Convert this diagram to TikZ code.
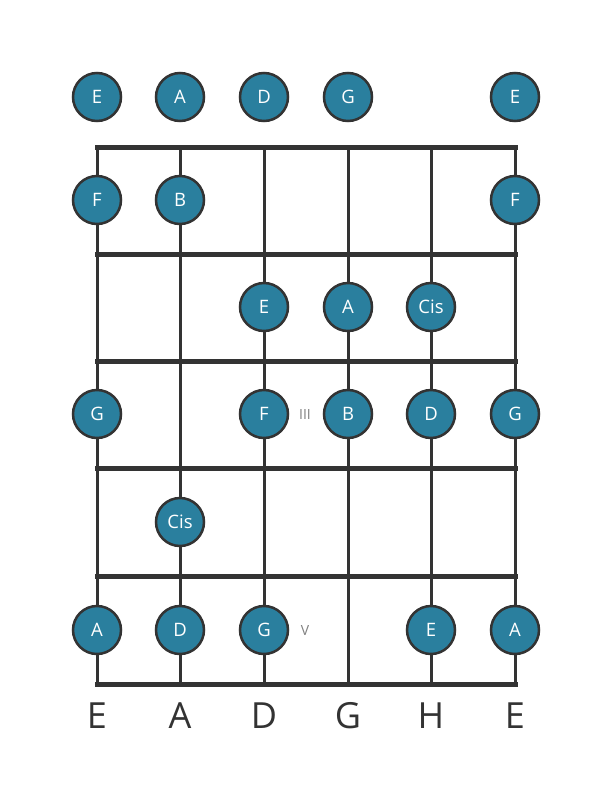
\documentclass[tikz,border=0pt]{standalone}
\usepackage{fontspec}
\setmainfont{Open Sans}
\definecolor{notefill}{HTML}{2A7F9E}
\definecolor{ink}{HTML}{333333}
\definecolor{marker}{HTML}{808080}
\begin{document}
\begin{tikzpicture}[x=1pt,y=-1pt,
  note/.style={circle,draw=ink,line width=2.5pt,fill=notefill,minimum size=48pt,inner sep=0pt,text=white,font=\fontsize{18.5}{18.5}\selectfont},
  fretline/.style={draw=ink,line width=5pt},
  stringline/.style={draw=ink,line width=3pt},
  markerlabel/.style={text=marker,font=\fontsize{14}{14}\selectfont},
  strlabel/.style={text=ink,font=\fontsize{36}{36}\selectfont}]
\useasboundingbox (0,0) rectangle (611,801);
% strings
\foreach \x in {97,180,264,348,431,515}{
  \draw[stringline] (\x,147) -- (\x,684);
}
% frets
\foreach \y in {147,254,361,468,576,684}{
  \draw[fretline,line cap=rect] (97,\y) -- (515,\y);
}
% open notes
\node[note] (o1) at (97,97) {E};
\node[note] (o2) at (180,97) {A};
\node[note] (o3) at (264,97) {D};
\node[note] (o4) at (348,97) {G};
\node[note] (o6) at (515,97) {E};
% fret 1
\node[note] (a1) at (97,200) {F};
\node[note] (a2) at (180,200) {B};
\node[note] (a6) at (515,200) {F};
% fret 2
\node[note] (b3) at (264,307) {E};
\node[note] (b4) at (348,307) {A};
\node[note] (b5) at (431,307) {Cis};
% fret 3
\node[note] (c1) at (97,414) {G};
\node[note] (c3) at (264,414) {F};
\node[note] (c4) at (348,414) {B};
\node[note] (c5) at (431,414) {D};
\node[note] (c6) at (515,414) {G};
\node[markerlabel] (m3) at (305,414) {III};
% fret 4
\node[note] (d2) at (180,522) {Cis};
% fret 5
\node[note] (e1) at (97,630) {A};
\node[note] (e2) at (180,630) {D};
\node[note] (e3) at (264,630) {G};
\node[note] (e5) at (431,630) {E};
\node[note] (e6) at (515,630) {A};
\node[markerlabel] (m5) at (305,630) {V};
% string names
\node[strlabel] (s1) at (97,716) {E};
\node[strlabel] (s2) at (180,716) {A};
\node[strlabel] (s3) at (264,716) {D};
\node[strlabel] (s4) at (348,716) {G};
\node[strlabel] (s5) at (431,716) {H};
\node[strlabel] (s6) at (515,716) {E};
\end{tikzpicture}
\end{document}
